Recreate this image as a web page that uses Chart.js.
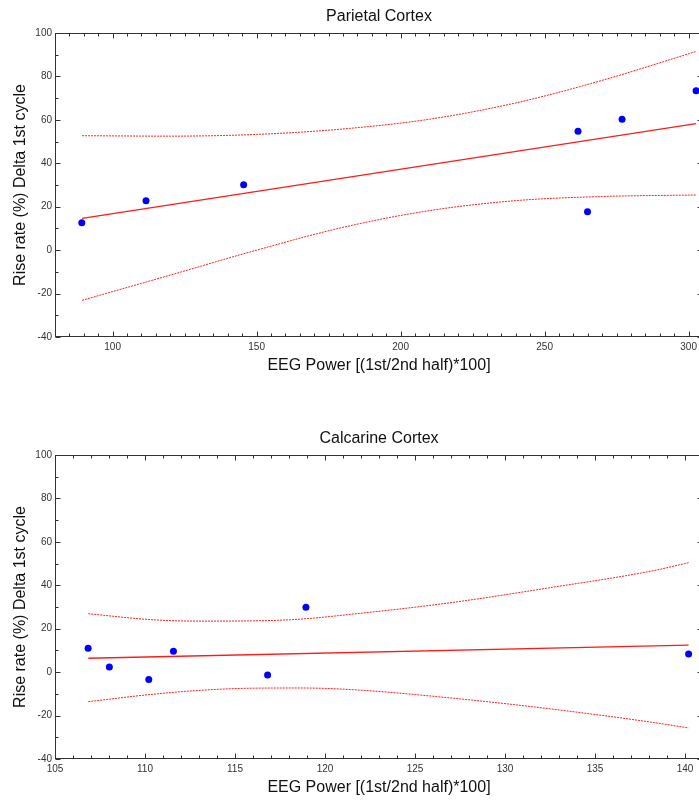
<!DOCTYPE html>
<html>
<head>
<meta charset="utf-8">
<script src="https://cdn.jsdelivr.net/npm/chart.js@4/dist/chart.umd.min.js"></script>
<style>
  html, body { margin: 0; padding: 0; background: #fff; overflow: hidden; }
  #page { position: relative; width: 699px; height: 803px; overflow: hidden; }
  .panel { position: absolute; left: 0; width: 707px; height: 381px; }
  #p1 { top: 0; }
  #p2 { top: 422px; }
</style>
</head>
<body>
<div id="page">
  <div class="panel" id="p1"><canvas id="parietal" width="707" height="381"></canvas></div>
  <div class="panel" id="p2"><canvas id="calcarine" width="707" height="381"></canvas></div>
</div>
<script>
// Parietal cortex - points, fit and confidence band
const parietalX = [89.3, 111.6, 145.5, 261.6, 264.9, 276.9, 302.6];
const parietalY = [12.6, 22.8, 30.1, 54.8, 17.7, 60.3, 73.4];
const parietalFitX = [89.4, 302.6];
const parietalFitY = [14.6, 58.3];
const parietalBandX = [89.4, 120, 150, 180, 210, 240, 270, 302.6];
const parietalUpper = [52.7, 52.5, 53.3, 55.8, 60.3, 67.8, 78.2, 91.5];
const parietalLower = [-23.1, -11.5, 0.0, 10.5, 18.2, 22.8, 24.7, 25.4];

// Calcarine cortex
const calcarineX = [106.84, 108.02, 110.21, 111.58, 116.81, 118.94, 140.2];
const calcarineY = [11.0, 2.4, -3.4, 9.6, -1.3, 29.9, 8.3];
const calcarineFitX = [106.85, 140.2];
const calcarineFitY = [6.4, 12.4];
const calcarineBandX = [106.85, 110.3, 113, 115.9, 118.6, 121.4, 127, 132.5, 138.1, 140.2];
const calcarineUpper = [26.9, 24.2, 23.5, 23.6, 24.4, 26.6, 32.0, 38.9, 46.5, 50.4];
const calcarineLower = [-13.6, -10.3, -8.4, -7.4, -7.3, -8.0, -11.9, -16.9, -23.0, -25.7];

// Tick labels
const parietalXTicks = [100, 150, 200, 250, 300];
const calcarineXTicks = [105, 110, 115, 120, 125, 130, 135, 140];
const yTicks = [-40, -20, 0, 20, 40, 60, 80, 100];

Chart.defaults.font.family = "'Liberation Sans', Arial, Helvetica, sans-serif";

function pairs(xs, ys) {
    return xs.map((x, i) => ({ x: x, y: ys[i] }));
}

// box with inward ticks on all four sides, title centred over the plot
const frame = {
    id: 'frame',
    afterDraw(chart, args, opts) {
        const { ctx, chartArea: a, scales: { x, y } } = chart;
        const L = Math.round(a.left) + 0.5, R = Math.round(a.right) - 0.5;
        const T = Math.round(a.top) + 0.5, B = Math.round(a.bottom) - 0.5;
        ctx.save();
        ctx.strokeStyle = '#333';
        ctx.lineWidth = 1;
        ctx.strokeRect(L, T, R - L, B - T);
        ctx.beginPath();
        for (let v = x.min; v <= x.max + 1e-9; v += opts.xMinor) {
            const len = opts.xTicks.includes(v) ? 5 : 3;
            const px = Math.round(x.getPixelForValue(v)) + 0.5;
            ctx.moveTo(px, B); ctx.lineTo(px, B - len);
            ctx.moveTo(px, T); ctx.lineTo(px, T + len);
        }
        for (let v = y.min; v <= y.max + 1e-9; v += opts.yMinor) {
            const len = opts.yTicks.includes(v) ? 5 : 3;
            const py = Math.round(y.getPixelForValue(v)) + 0.5;
            ctx.moveTo(L, py); ctx.lineTo(L + len, py);
            ctx.moveTo(R, py); ctx.lineTo(R - len, py);
        }
        ctx.stroke();

        ctx.fillStyle = '#111';
        ctx.font = "16px 'Liberation Sans', Arial, sans-serif";
        ctx.textAlign = 'center';
        ctx.textBaseline = 'middle';
        ctx.fillText(opts.title, (a.left + a.right) / 2, a.top - 16);
        ctx.restore();
    }
};

function makeChart(id, title, xMin, xMax, xTicks, xMinor, pts, fit, band) {
    const ctx = document.getElementById(id).getContext('2d');
    return new Chart(ctx, {
        type: 'scatter',
        data: {
            datasets: [
                {
                    data: pairs(band[0], band[1]),
                    showLine: true, pointRadius: 0,
                    borderColor: '#ff2020', borderWidth: 1, borderDash: [2, 1],
                    cubicInterpolationMode: 'monotone'
                },
                {
                    data: pairs(band[0], band[2]),
                    showLine: true, pointRadius: 0,
                    borderColor: '#ff2020', borderWidth: 1, borderDash: [2, 1],
                    cubicInterpolationMode: 'monotone'
                },
                {
                    data: pairs(fit[0], fit[1]),
                    showLine: true, pointRadius: 0,
                    borderColor: '#ff1a1a', borderWidth: 1.3
                },
                {
                    data: pairs(pts[0], pts[1]),
                    pointRadius: 3.5, pointBackgroundColor: '#0000ff',
                    pointBorderColor: '#0000ff', pointBorderWidth: 0
                }
            ]
        },
        options: {
            responsive: false,
            animation: false,
            layout: { padding: { left: 0, right: 1, top: 33, bottom: 0 } },
            plugins: {
                legend: { display: false },
                tooltip: { enabled: false },
                title: { display: false },
                frame: { title: title, xTicks: xTicks, xMinor: xMinor, yTicks: yTicks, yMinor: 10 }
            },
            scales: {
                x: {
                    type: 'linear', min: xMin, max: xMax,
                    afterBuildTicks: s => { s.ticks = xTicks.map(v => ({ value: v })); },
                    afterFit: s => { s.height = 44; },
                    grid: { display: false, drawTicks: false },
                    border: { display: false },
                    ticks: { padding: 4, color: '#333', font: { size: 10 }, maxRotation: 0, autoSkip: false },
                    title: {
                        display: true, text: 'EEG Power [(1st/2nd half)*100]', color: '#111',
                        font: { size: 16 }, padding: { top: 0, bottom: 6 }
                    }
                },
                y: {
                    min: -40, max: 100,
                    afterBuildTicks: s => { s.ticks = yTicks.map(v => ({ value: v })); },
                    afterFit: s => { s.width = 55; },
                    grid: { display: false, drawTicks: false },
                    border: { display: false },
                    ticks: { padding: 3, color: '#333', font: { size: 10 } },
                    title: {
                        display: true, text: 'Rise rate (%) Delta 1st cycle', color: '#111',
                        font: { size: 16 }, padding: { top: 11, bottom: 0 }
                    }
                }
            }
        },
        plugins: [frame]
    });
}

makeChart('parietal', 'Parietal Cortex', 80, 305, parietalXTicks, 5,
    [parietalX, parietalY], [parietalFitX, parietalFitY],
    [parietalBandX, parietalUpper, parietalLower]);

makeChart('calcarine', 'Calcarine Cortex', 105, 141, calcarineXTicks, 1,
    [calcarineX, calcarineY], [calcarineFitX, calcarineFitY],
    [calcarineBandX, calcarineUpper, calcarineLower]);
</script>
</body>
</html>
